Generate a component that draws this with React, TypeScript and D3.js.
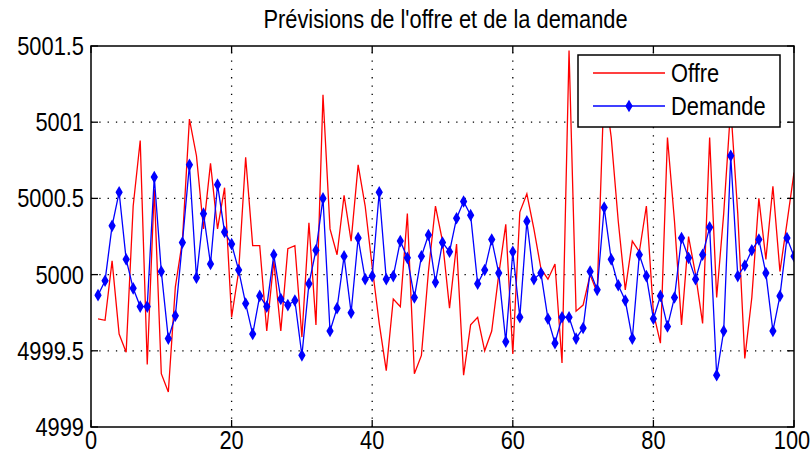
import React from 'react';
import * as d3 from 'd3';

// Offre (red) and Demande (blue), one value per step 1..100
const offre: number[] = [
  4999.71, 4999.70, 5000.09, 4999.61, 4999.49, 5000.45, 5000.88, 4999.41, 5000.56, 4999.35,
  4999.23, 4999.92, 5000.22, 5001.02, 5000.78, 5000.30, 5000.73, 5000.30, 5000.57, 4999.72,
  5000.02, 5000.77, 5000.19, 5000.19, 4999.63, 5000.09, 4999.63, 5000.17, 5000.19, 4999.59,
  5000.34, 4999.67, 5001.18, 5000.30, 5000.13, 5000.52, 5000.22, 5000.72, 5000.45, 5000.05,
  4999.68, 4999.37, 4999.84, 4999.79, 5000.40, 4999.35, 4999.47, 5000.02, 5000.45, 5000.22,
  4999.78, 5000.20, 4999.34, 4999.67, 4999.72, 4999.50, 4999.63, 5000.00, 5000.33, 4999.48,
  5000.41, 5000.53, 5000.30, 5000.04, 4999.97, 5000.07, 4999.42, 5001.47, 4999.76, 4999.80,
  5000.00, 4999.88, 5001.25, 5000.90, 5000.35, 4999.90, 5000.22, 5000.15, 5000.45, 4999.75,
  4999.55, 5000.90, 5000.35, 4999.67, 5000.25, 5000.00, 4999.68, 5000.90, 4999.85, 5000.40,
  5001.10, 5000.40, 4999.45, 4999.85, 5000.50, 5000.10, 5000.58, 5000.02, 5000.34, 5000.67,
];

const demande: number[] = [
  4999.865, 4999.96, 5000.32, 5000.54, 5000.10, 4999.91, 4999.79, 4999.79, 5000.64, 5000.02,
  4999.58, 4999.73, 5000.21, 5000.72, 4999.98, 5000.40, 5000.07, 5000.59, 5000.28, 5000.20,
  5000.03, 4999.81, 4999.61, 4999.86, 4999.79, 5000.13, 4999.84, 4999.80, 4999.83, 4999.47,
  4999.94, 5000.16, 5000.50, 4999.63, 4999.78, 5000.12, 4999.75, 5000.24, 4999.97, 4999.99,
  5000.54, 4999.97, 4999.99, 5000.22, 5000.11, 4999.85, 5000.12, 5000.26, 4999.95, 5000.21,
  5000.15, 5000.37, 5000.48, 5000.39, 4999.94, 5000.03, 5000.23, 5000.01, 4999.56, 5000.15,
  4999.72, 5000.35, 4999.97, 5000.01, 4999.71, 4999.55, 4999.72, 4999.72, 4999.58, 4999.65,
  5000.02, 4999.90, 5000.44, 5000.10, 4999.93, 4999.83, 4999.58, 5000.13, 4999.99, 4999.71,
  4999.86, 4999.66, 4999.85, 5000.24, 5000.11, 4999.97, 5000.13, 5000.31, 4999.34, 4999.63,
  5000.78, 4999.99, 5000.06, 5000.16, 5000.23, 5000.01, 4999.63, 4999.86, 5000.24, 5000.12,
];

const xTicks = [0, 20, 40, 60, 80, 100];
const yTicks = [4999, 4999.5, 5000, 5000.5, 5001, 5001.5];
const yTickLabels = ['4999', '4999.5', '5000', '5000.5', '5001', '5001.5'];
const title = "Prévisions de l'offre et de la demande";
const seriesNames = ['Offre', 'Demande'];

const W = 811;
const H = 455;
const plot = { left: 91, right: 794, top: 46, bottom: 427 };
const FONT = '"Liberation Sans", Arial, sans-serif';
const FS = 26;
const SX = 0.84; // narrow look of the original font

const Label: React.FC<{ x: number; y: number; anchor?: string; children: React.ReactNode }> = ({
  x,
  y,
  anchor = 'start',
  children,
}) => (
  <text
    transform={`translate(${x},${y}) scale(${SX},1)`}
    textAnchor={anchor as any}
    fontFamily={FONT}
    fontSize={FS}
    fill="#000"
  >
    {children}
  </text>
);

const App: React.FC = () => {
  const x = d3.scaleLinear().domain([0, 100]).range([plot.left, plot.right]);
  const y = d3.scaleLinear().domain([4999, 5001.5]).range([plot.bottom, plot.top]);

  const line = d3
    .line<number>()
    .x((_, i) => x(i + 1))
    .y((d) => y(d));

  const marker = d3.symbol().type(d3.symbolDiamond).size(46)() || '';
  const tick = 7;

  return (
    <svg
      width={W}
      height={H}
      style={{ position: 'absolute', left: 0, top: 0, background: '#fff' }}
    >
      <defs>
        <clipPath id="plotClip">
          <rect x={plot.left} y={plot.top} width={plot.right - plot.left} height={plot.bottom - plot.top} />
        </clipPath>
      </defs>

      {/* grid */}
      <g stroke="#000" strokeWidth={1.3} strokeDasharray="1.3,7">
        {xTicks.slice(1, -1).map((t) => (
          <line key={`gx${t}`} x1={x(t)} x2={x(t)} y1={plot.bottom} y2={plot.top} />
        ))}
        {yTicks.slice(1, -1).map((t) => (
          <line key={`gy${t}`} x1={plot.left} x2={plot.right} y1={y(t)} y2={y(t)} />
        ))}
      </g>

      {/* data */}
      <g clipPath="url(#plotClip)">
        <path d={line(offre) || ''} fill="none" stroke="#ff0000" strokeWidth={1.3} />
        <path d={line(demande) || ''} fill="none" stroke="#0000ff" strokeWidth={1.3} />
        {demande.map((d, i) => (
          <g key={i} transform={`translate(${x(i + 1)},${y(d)})`} fill="#0000ff">
            <path d={marker} />
            <circle r={2.6} />
          </g>
        ))}
      </g>

      {/* frame and ticks */}
      <rect
        x={plot.left}
        y={plot.top}
        width={plot.right - plot.left}
        height={plot.bottom - plot.top}
        fill="none"
        stroke="#000"
        strokeWidth={1.5}
      />
      <g stroke="#000" strokeWidth={1.3}>
        {xTicks.map((t) => (
          <g key={`tx${t}`}>
            <line x1={x(t)} x2={x(t)} y1={plot.bottom} y2={plot.bottom - tick} />
            <line x1={x(t)} x2={x(t)} y1={plot.top} y2={plot.top + tick} />
          </g>
        ))}
        {yTicks.map((t) => (
          <g key={`ty${t}`}>
            <line x1={plot.left} x2={plot.left + tick} y1={y(t)} y2={y(t)} />
            <line x1={plot.right} x2={plot.right - tick} y1={y(t)} y2={y(t)} />
          </g>
        ))}
      </g>

      {/* tick labels */}
      {xTicks.map((t) => (
        <Label key={`lx${t}`} x={Math.min(x(t), 792)} y={plot.bottom + 22} anchor="middle">
          {t}
        </Label>
      ))}
      {yTicks.map((t, i) => (
        <Label key={`ly${t}`} x={84} y={y(t) + 9} anchor="end">
          {yTickLabels[i]}
        </Label>
      ))}

      {/* title */}
      <Label x={(plot.left + plot.right) / 2 + 3} y={28} anchor="middle">
        {title}
      </Label>

      {/* legend */}
      <g>
        <rect x={578} y={55} width={202} height={72} fill="#fff" stroke="#000" strokeWidth={1.5} />
        <line x1={593} x2={665} y1={73} y2={73} stroke="#ff0000" strokeWidth={1.3} />
        <line x1={593} x2={665} y1={106} y2={106} stroke="#0000ff" strokeWidth={1.3} />
        <g transform="translate(629,106)" fill="#0000ff">
          <path d={marker} />
          <circle r={2.6} />
        </g>
        <Label x={671} y={82}>
          {seriesNames[0]}
        </Label>
        <Label x={671} y={115}>
          {seriesNames[1]}
        </Label>
      </g>
    </svg>
  );
};

export default App;
